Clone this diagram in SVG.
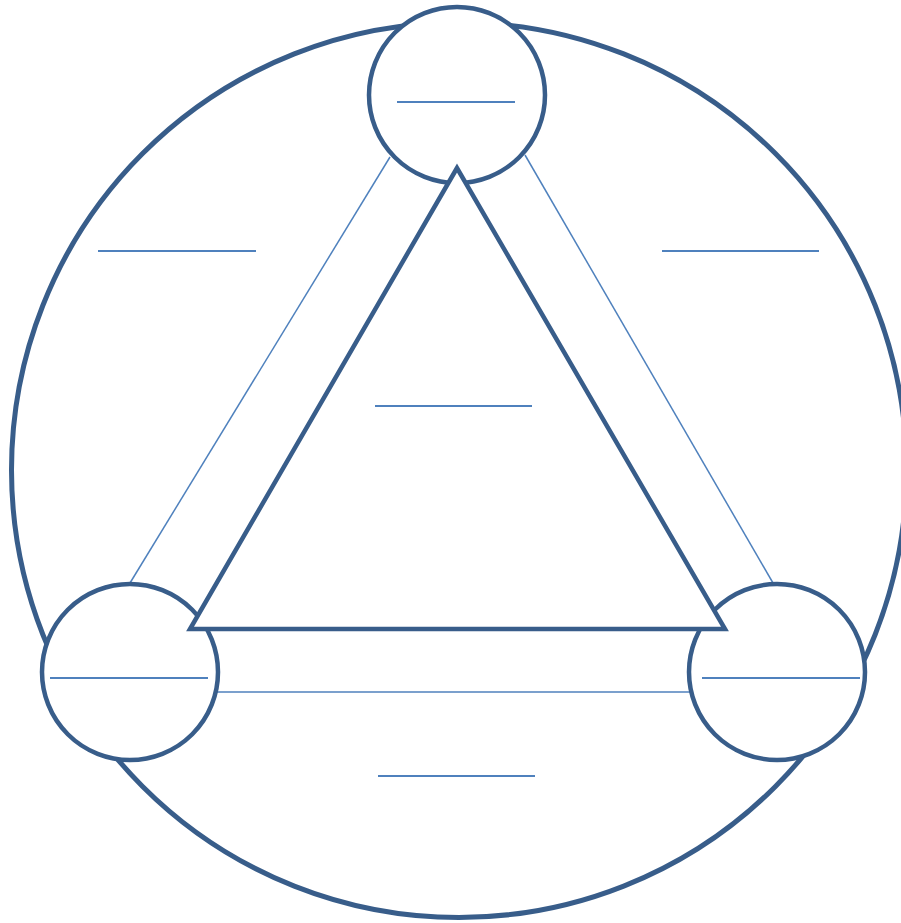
<svg xmlns="http://www.w3.org/2000/svg" width="901" height="923" viewBox="0 0 901 923">
<style>
.thick{fill:#fff;stroke:#385D8A;stroke-width:4.5}
.outer{fill:#fff;stroke:#385D8A;stroke-width:5}
.thin{fill:none;stroke:#4F81BD;stroke-width:1.5}
.blank{fill:none;stroke:#4F81BD;stroke-width:2.2}
</style>
<rect width="901" height="923" fill="#fff"/>
<g id="outer"><circle class="outer" cx="459" cy="470" r="447.5"/></g>
<g id="connectors">
<line class="thin" x1="390" y1="157" x2="130" y2="583"/>
<line class="thin" x1="525" y1="155" x2="773" y2="583"/>
<line class="thin" x1="216" y1="692" x2="690" y2="692"/>
</g>
<g id="node-top"><circle class="thick" cx="457" cy="95" r="88"/><line class="blank" x1="397" y1="102" x2="515" y2="102"/></g>
<g id="node-left"><circle class="thick" cx="130" cy="672" r="88"/><line class="blank" x1="50" y1="678" x2="208" y2="678"/></g>
<g id="node-right"><circle class="thick" cx="777" cy="672" r="88"/><line class="blank" x1="702" y1="678" x2="860" y2="678"/></g>
<g id="triangle"><path class="thick" d="M457,168 L190,629 L725,629 Z" stroke-linejoin="miter"/><line class="blank" x1="375" y1="406" x2="532" y2="406"/></g>
<g id="labels">
<line class="blank" x1="98" y1="251" x2="256" y2="251"/>
<line class="blank" x1="662" y1="251" x2="819" y2="251"/>
<line class="blank" x1="378" y1="776" x2="535" y2="776"/>
</g>
</svg>
